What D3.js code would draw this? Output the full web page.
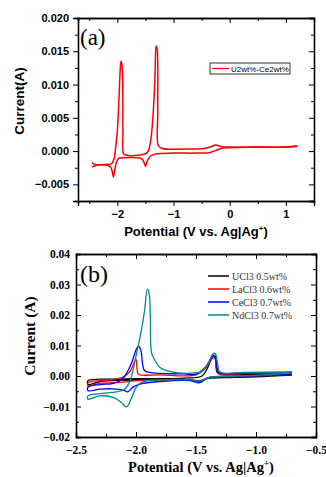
<!DOCTYPE html>
<html>
<head>
<meta charset="utf-8">
<script src="https://cdn.jsdelivr.net/npm/d3@7"></script>
<style>
  body { margin: 0; background: #fff; }
  svg { display: block; }
</style>
</head>
<body>
<svg id="chart" width="326" height="477"></svg>
<script>
// ---- panel (a) data: [potential V, current A] ----
const aCathodic = [[1.2,0.0007],[1.0,0.0006],[0.5,0.0006],[0,0.0005],[-0.15,0.0004],[-0.25,0.0001],[-0.35,-0.0002],[-0.6,-0.0003],[-1.0,-0.0003],[-1.3,-0.0004],[-1.4,-0.0007],[-1.45,-0.0012],[-1.48,-0.0018],[-1.5,-0.0023],[-1.52,-0.0018],[-1.56,-0.0012],[-1.65,-0.001],[-1.9,-0.001],[-1.98,-0.0011],[-2.02,-0.0018],[-2.05,-0.003],[-2.07,-0.0039],[-2.09,-0.0031],[-2.12,-0.0024],[-2.2,-0.0021],[-2.35,-0.0021],[-2.45,-0.0024]];
const aAnodic = [[-2.45,-0.0017],[-2.4,-0.002],[-2.2,-0.002],[-2.1,-0.0019],[-2.06,-0.0012],[-2.03,0.0005],[-2.0,0.003],[-1.97,0.008],[-1.95,0.012],[-1.935,0.0135],[-1.915,0.0128],[-1.9,0.003],[-1.89,-0.0004],[-1.85,-0.0006],[-1.6,-0.0006],[-1.5,-0.0004],[-1.45,0.0],[-1.4,0.002],[-1.36,0.006],[-1.33,0.011],[-1.31,0.0158],[-1.29,0.0152],[-1.28,0.006],[-1.27,0.0008],[-1.2,0.0004],[-0.8,0.0003],[-0.45,0.0004],[-0.35,0.0006],[-0.25,0.0009],[-0.15,0.0007],[0,0.0006],[0.5,0.0006],[1.0,0.0006],[1.2,0.0008]];
const aLegend = "U2wt%-Ce2wt%";

// ---- panel (b) data ----
const bNames = ["UCl3 0.5wt%", "LaCl3 0.6wt%", "CeCl3 0.7wt%", "NdCl3 0.7wt%"];
const bColors = ["#000000", "#ff0000", "#0000ff", "#008b8b"];
const uCl3 = [[-0.7,0.0003],[-1.0,-0.0003],[-1.4,-0.0008],[-1.47,-0.0016],[-1.55,-0.0012],[-1.8,-0.0012],[-2.1,-0.0014],[-2.3,-0.0018],[-2.4,-0.0028],[-2.4,-0.0015],[-2.2,-0.001],[-2.0,-0.0009],[-1.6,-0.0007],[-1.45,0.0],[-1.4,0.003],[-1.36,0.0065],[-1.34,0.0065],[-1.32,0.001],[-1.2,0.0005],[-0.7,0.0008]];
const laCl3 = [[-0.7,0.0005],[-1.0,0.0],[-1.4,-0.0005],[-1.47,-0.002],[-1.55,-0.0013],[-1.8,-0.0013],[-2.0,-0.0015],[-2.1,-0.002],[-2.3,-0.0024],[-2.4,-0.0032],[-2.4,-0.0022],[-2.3,-0.0015],[-2.2,-0.0012],[-2.1,-0.0002],[-2.05,0.0015],[-2.02,0.004],[-2.0,0.0055],[-1.99,0.002],[-1.98,0.0006],[-1.8,0.0004],[-1.5,0.0004],[-1.42,0.0025],[-1.37,0.0055],[-1.35,0.0062],[-1.33,0.004],[-1.31,0.0009],[-1.1,0.0008],[-0.7,0.0009]];
const ceCl3 = [[-0.7,0.0006],[-1.0,0.0],[-1.4,-0.0006],[-1.47,-0.0022],[-1.55,-0.0015],[-1.8,-0.0018],[-1.95,-0.0025],[-2.02,-0.0035],[-2.07,-0.0052],[-2.1,-0.0047],[-2.2,-0.0042],[-2.3,-0.0043],[-2.4,-0.0048],[-2.4,-0.0036],[-2.3,-0.0028],[-2.2,-0.0025],[-2.12,-0.0012],[-2.07,0.0015],[-2.03,0.005],[-2.0,0.0085],[-1.98,0.0098],[-1.96,0.0085],[-1.945,0.004],[-1.93,0.0018],[-1.88,0.0011],[-1.6,0.0007],[-1.5,0.0006],[-1.42,0.003],[-1.37,0.006],[-1.35,0.0068],[-1.33,0.005],[-1.31,0.0012],[-1.1,0.001],[-0.7,0.0012]];
const ndCl3 = [[-0.7,0.001],[-1.0,0.0002],[-1.4,-0.0006],[-1.47,-0.0017],[-1.55,-0.0013],[-1.8,-0.0013],[-1.95,-0.002],[-2.0,-0.0038],[-2.04,-0.0075],[-2.08,-0.0101],[-2.12,-0.0088],[-2.18,-0.0072],[-2.3,-0.0065],[-2.4,-0.0076],[-2.4,-0.0065],[-2.3,-0.0058],[-2.2,-0.0054],[-2.1,-0.0045],[-2.06,-0.0025],[-2.03,0.001],[-2.0,0.0065],[-1.96,0.014],[-1.93,0.021],[-1.905,0.0285],[-1.89,0.027],[-1.88,0.019],[-1.87,0.0075],[-1.84,0.005],[-1.8,0.0028],[-1.72,0.0015],[-1.55,0.0009],[-1.45,0.0015],[-1.4,0.004],[-1.36,0.0072],[-1.34,0.0074],[-1.32,0.004],[-1.3,0.0013],[-1.1,0.0012],[-0.7,0.0014]];
const bSeries = [uCl3, laCl3, ceCl3, ndCl3];

const svg = d3.select("#chart");

// ================= panel (a) =================
const ax = d3.scaleLinear().domain([-2.7, 1.5]).range([78, 314]);
const ay = d3.scaleLinear().domain([-0.0075, 0.020]).range([201, 18]);
const ga = svg.append("g").attr("font-family", "Liberation Sans, Arial, sans-serif");

function frame(g, x, y, xMaj, xMin, yMaj, yMin, outward, xFmt, yFmt, font, size) {
  const [x0, x1] = x.range(), [y0, y1] = y.range();
  const inn = outward ? -1 : 1;
  // bottom
  g.append("g").attr("transform", `translate(0,${y0})`)
    .call(d3.axisBottom(x).tickValues(xMin).tickSize(-3 * inn).tickFormat(""));
  g.append("g").attr("transform", `translate(0,${y0})`)
    .call(d3.axisBottom(x).tickValues(xMaj).tickSize(-5 * inn).tickPadding(outward ? 4 : 9).tickFormat(xFmt))
    .call(s => s.selectAll("text").attr("font-family", font).attr("font-weight", "bold").attr("font-size", size).attr("fill", "#000"));
  // top
  g.append("g").attr("transform", `translate(0,${y1})`)
    .call(d3.axisTop(x).tickValues(xMin).tickSize(-3).tickFormat(""));
  g.append("g").attr("transform", `translate(0,${y1})`)
    .call(d3.axisTop(x).tickValues(xMaj).tickSize(-5).tickFormat(""));
  // left
  g.append("g").attr("transform", `translate(${x0},0)`)
    .call(d3.axisLeft(y).tickValues(yMin).tickSize(-3 * inn).tickFormat(""));
  g.append("g").attr("transform", `translate(${x0},0)`)
    .call(d3.axisLeft(y).tickValues(yMaj).tickSize(-5 * inn).tickPadding(outward ? 4 : 4).tickFormat(yFmt))
    .call(s => s.selectAll("text").attr("font-family", font).attr("font-weight", "bold").attr("font-size", size).attr("fill", "#000")
      .attr("dx", outward ? 0 : -2));
  // right
  g.append("g").attr("transform", `translate(${x1},0)`)
    .call(d3.axisRight(y).tickValues(yMin).tickSize(-3).tickFormat(""));
  g.append("g").attr("transform", `translate(${x1},0)`)
    .call(d3.axisRight(y).tickValues(yMaj).tickSize(-5).tickFormat(""));
  g.selectAll(".domain").attr("stroke", "#000").attr("stroke-width", 1.3);
  g.selectAll(".tick line").attr("stroke", "#000");
}

frame(ga, ax, ay,
  [-2, -1, 0, 1], [-2.5, -1.5, -0.5, 0.5],
  [-0.005, 0, 0.005, 0.010, 0.015, 0.020], [-0.0025, 0.0025, 0.0075, 0.0125, 0.0175],
  true, d3.format(".0f"), d3.format(".3f"), "Liberation Sans, Arial, sans-serif", 11);

const lineA = d3.line().x(d => ax(d[0])).y(d => ay(d[1])).curve(d3.curveCatmullRom.alpha(0.5));
[aCathodic, aAnodic].forEach(arr => {
  ga.append("path").attr("d", lineA(arr)).attr("fill", "none")
    .attr("stroke", "#ff0000").attr("stroke-width", 1.5);
});

ga.append("text").attr("x", 80).attr("y", 45).attr("font-family", "Liberation Serif, Times New Roman, serif")
  .attr("font-size", 23).text("(a)");

// legend (a)
ga.append("rect").attr("x", 210).attr("y", 63).attr("width", 80).attr("height", 11)
  .attr("fill", "#fff").attr("stroke", "#000").attr("stroke-width", 0.8);
ga.append("line").attr("x1", 212).attr("x2", 229).attr("y1", 68.5).attr("y2", 68.5)
  .attr("stroke", "#ff0000").attr("stroke-width", 1.2);
ga.append("text").attr("x", 231).attr("y", 71.5).attr("font-size", 8).text(aLegend);

ga.append("text").attr("transform", "translate(24,101) rotate(-90)").attr("text-anchor", "middle")
  .attr("font-weight", "bold").attr("font-size", 13.5).text("Current(A)");
const xa = ga.append("text").attr("x", 196).attr("y", 236).attr("text-anchor", "middle")
  .attr("font-weight", "bold").attr("font-size", 13).text("Potential (V vs. Ag|Ag");
xa.append("tspan").attr("dy", -5).attr("font-size", 8).text("+");
xa.append("tspan").attr("dy", 5).text(")");

// ================= panel (b) =================
const bx = d3.scaleLinear().domain([-2.5, -0.5]).range([76, 316]);
const by = d3.scaleLinear().domain([-0.02, 0.04]).range([437, 254]);
const serif = "Liberation Serif, Times New Roman, serif";
const gb = svg.append("g").attr("font-family", serif);

frame(gb, bx, by,
  [-2.5, -2.0, -1.5, -1.0, -0.5], [-2.25, -1.75, -1.25, -0.75],
  [-0.02, -0.01, 0, 0.01, 0.02, 0.03, 0.04], [-0.015, -0.005, 0.005, 0.015, 0.025, 0.035],
  false, d3.format(".1f"), d3.format(".2f"), serif, 11.5);

const lineB = d3.line().x(d => bx(d[0])).y(d => by(d[1])).curve(d3.curveCatmullRom.alpha(0.5));
bSeries.forEach((arr, i) => {
  gb.append("path").attr("d", lineB(arr)).attr("fill", "none")
    .attr("stroke", bColors[i]).attr("stroke-width", 1.3);
});

gb.append("text").attr("x", 80).attr("y", 282).attr("font-size", 24).text("(b)");

const lg = gb.append("g");
bNames.forEach((n, i) => {
  const yy = 276 + i * 13;
  lg.append("line").attr("x1", 208).attr("x2", 229).attr("y1", yy).attr("y2", yy)
    .attr("stroke", bColors[i]).attr("stroke-width", 1.5);
  lg.append("text").attr("x", 232).attr("y", yy + 3.5).attr("font-size", 10).attr("fill", "#333").text(n);
});

gb.append("text").attr("transform", "translate(35,336) rotate(-90)").attr("text-anchor", "middle")
  .attr("font-weight", "bold").attr("font-size", 15.5).text("Current (A)");
const xb = gb.append("text").attr("x", 201).attr("y", 472).attr("text-anchor", "middle")
  .attr("font-weight", "bold").attr("font-size", 14.5).text("Potential (V vs. Ag|Ag");
xb.append("tspan").attr("dy", -6).attr("font-size", 9).text("+");
xb.append("tspan").attr("dy", 6).text(")");
</script>
</body>
</html>
